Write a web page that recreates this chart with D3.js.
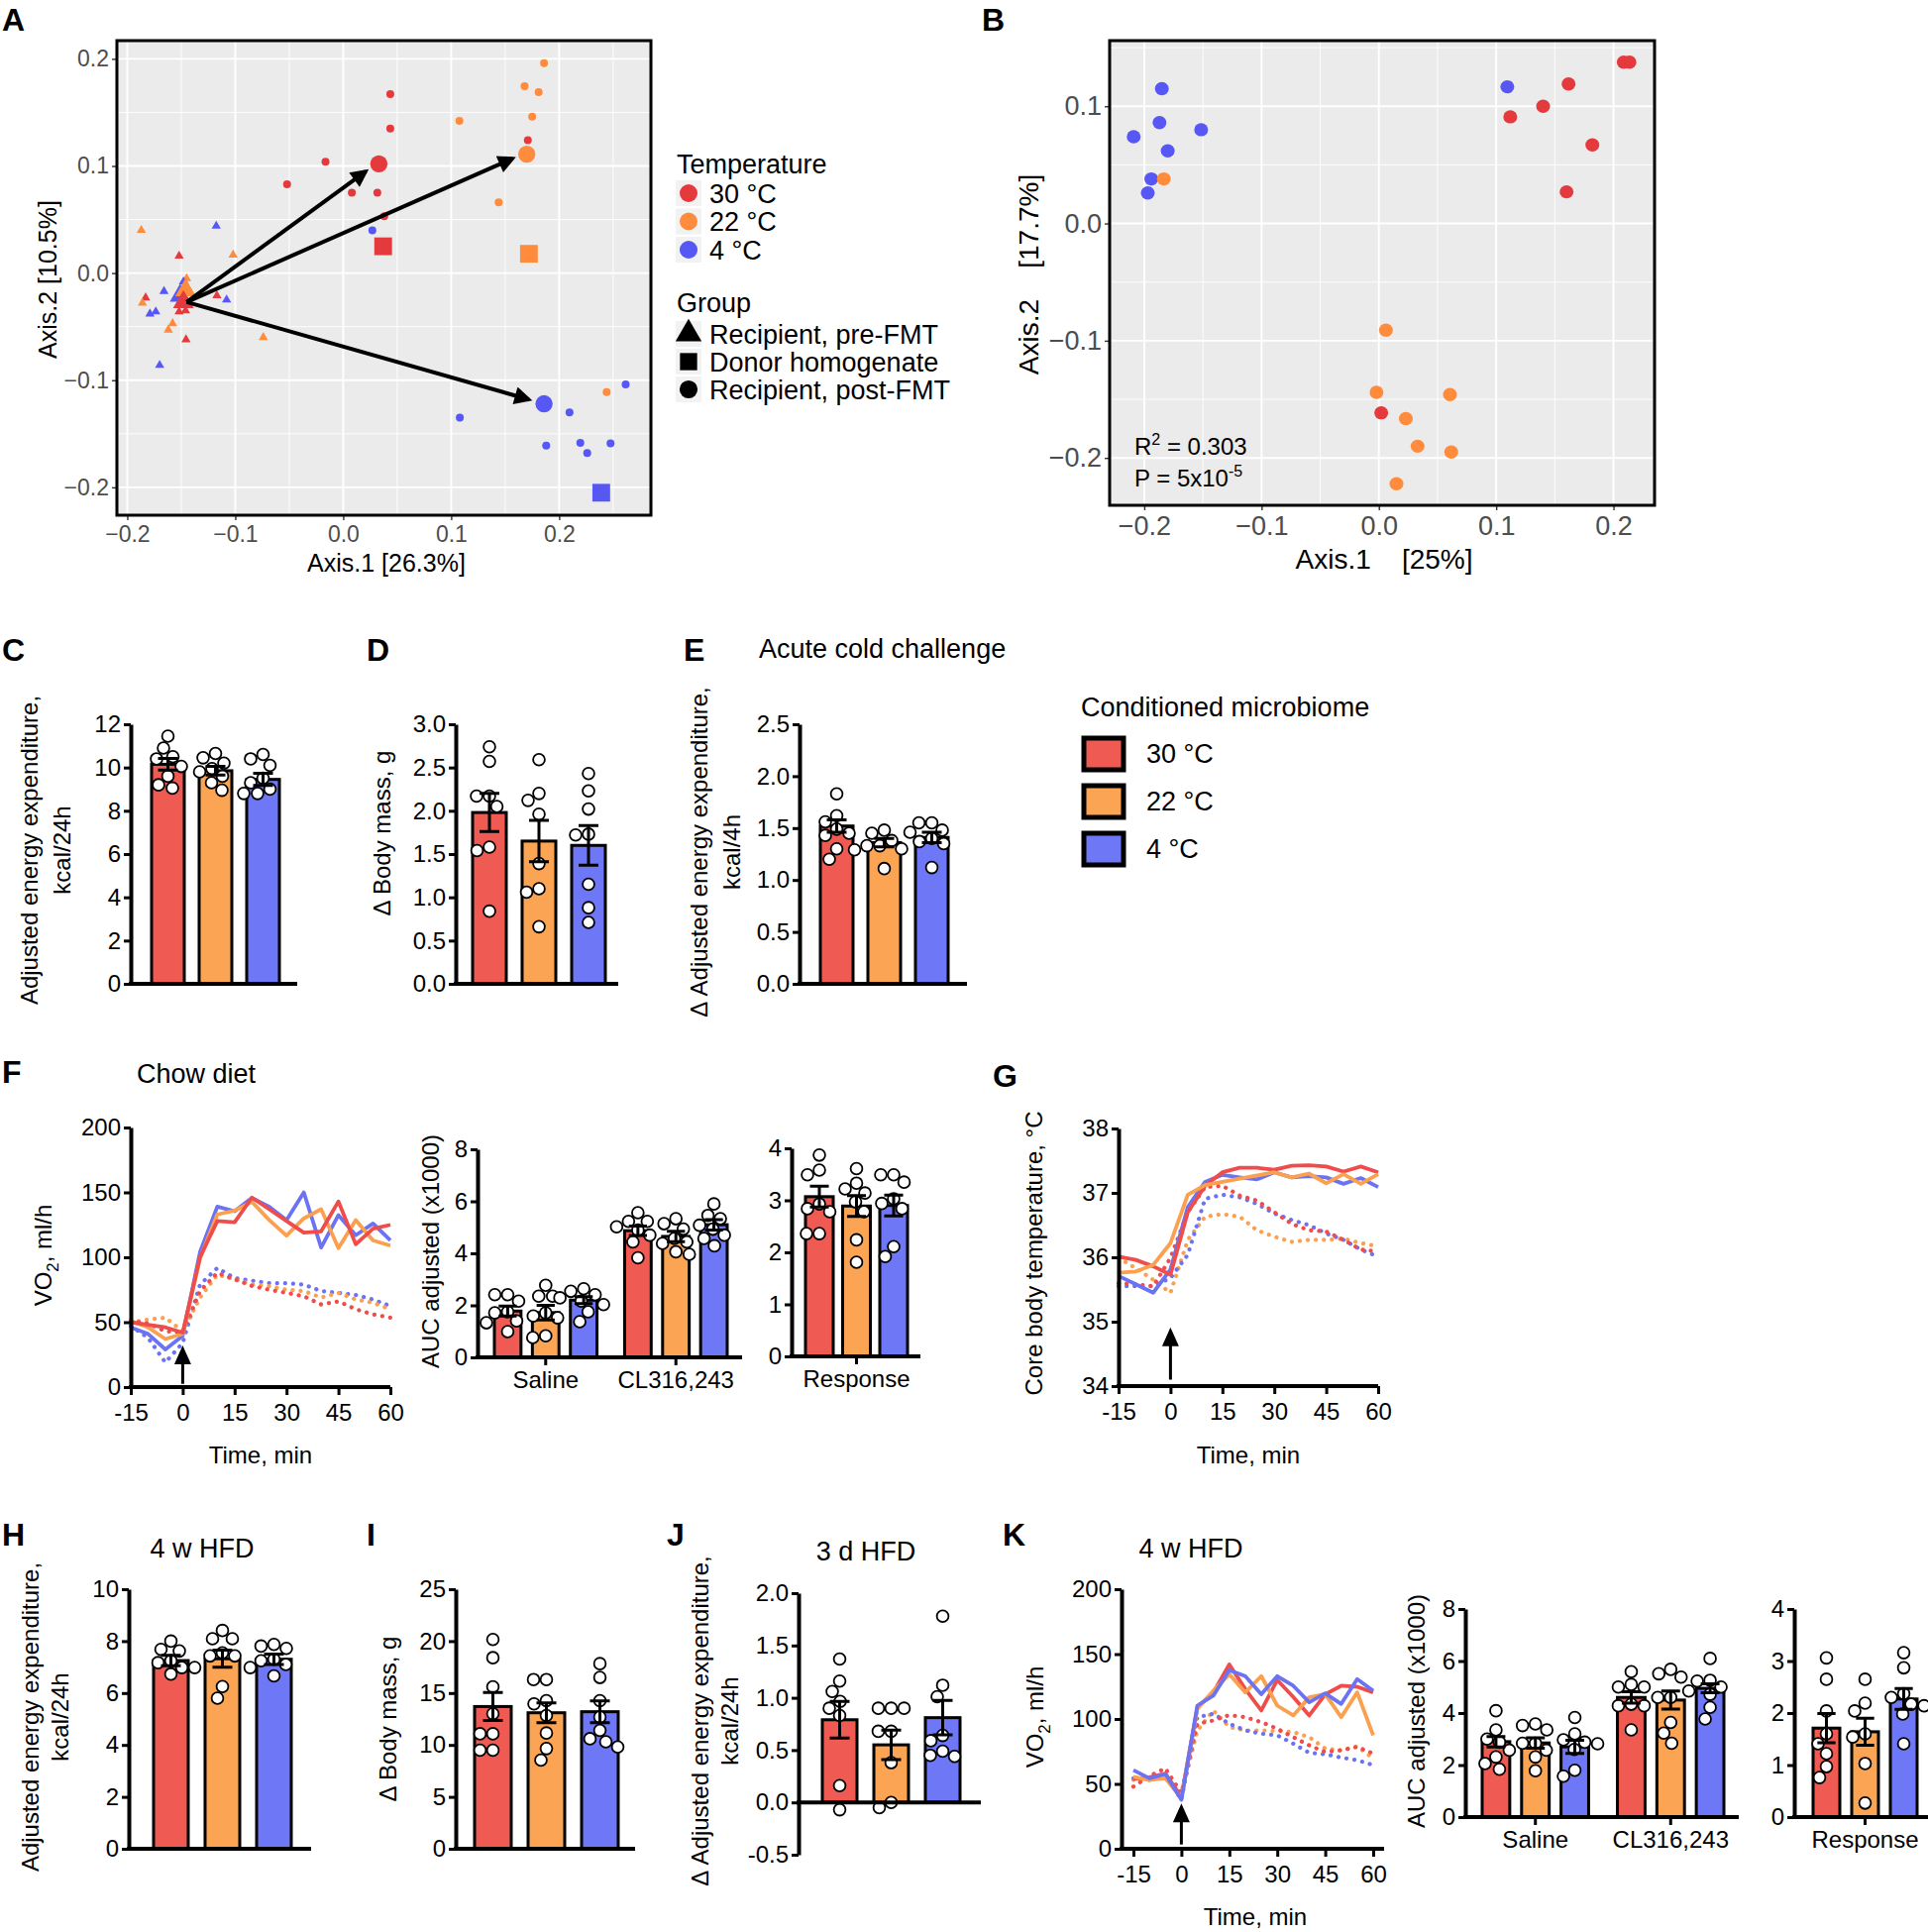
<!DOCTYPE html>
<html><head><meta charset="utf-8">
<script src="https://cdn.jsdelivr.net/npm/d3@7"></script>
<style>body{margin:0;background:#fff}</style>
</head><body><svg id="fig" width="1946" height="1950" xmlns="http://www.w3.org/2000/svg"></svg>
<script>
// ---------------- DATA ----------------
const groups = ["30 °C", "22 °C", "4 °C"];
const timeMin = [-15,-10,-5,0,5,10,15,20,25,30,35,40,45,50,55,60];
const timeTicks = [-15,0,15,30,45,60];

// Panel A (PCoA): [Axis.1, Axis.2]
const aPre30 = [[-0.152,0.016],[-0.183,-0.023],[-0.117,-0.021],[-0.1456,-0.062],[-0.152,-0.036],[-0.146,-0.035]];
const aPre22 = [[-0.187,0.040],[-0.102,0.017],[-0.145,-0.005],[-0.186,-0.028],[-0.158,-0.047],[-0.162,-0.053],[-0.074,-0.060]];
const aPre4  = [[-0.1176,0.044],[-0.148,-0.008],[-0.166,-0.017],[-0.1736,-0.036],[-0.179,-0.038],[-0.108,-0.025],[-0.170,-0.086]];
const aPost30 = [[0.0436,0.167],[0.0436,0.135],[-0.0164,0.104],[-0.052,0.083],[0.008,0.075],[0.0316,0.075],[0.038,0.053],[0.171,0.124]];
const aPost22 = [[0.186,0.196],[0.168,0.1745],[0.181,0.169],[0.175,0.146],[0.1076,0.142],[0.144,0.066],[0.244,-0.111]];
const aPost4  = [[0.027,0.040],[0.108,-0.135],[0.2096,-0.130],[0.188,-0.161],[0.2196,-0.1585],[0.226,-0.168],[0.2476,-0.159],[0.2616,-0.104]];
const aPreCentroid  = [[-0.148,-0.027],[-0.146,-0.016],[-0.151,-0.021]];
const aPostCentroid = [[0.033,0.102],[0.170,0.111],[0.186,-0.122]];
const aDonor = [[0.037,0.025],[0.172,0.018],[0.239,-0.205]];
const aArrowStart = [-0.145,-0.027];
const aArrowEnd = [[0.021,0.095],[0.157,0.107],[0.172,-0.118]];

// Panel B (PCoA)
const b30 = [[0.2087,0.1376],[0.2136,0.1376],[0.1617,0.119],[0.140,0.100],[0.112,0.091],[0.182,0.067],[0.160,0.027],[0.002,-0.1615]];
const b22 = [[-0.1833,0.038],[0.006,-0.091],[-0.002,-0.144],[0.0606,-0.146],[0.023,-0.1665],[0.033,-0.190],[0.0617,-0.195],[0.015,-0.222]];
const b4  = [[-0.185,0.115],[-0.187,0.086],[-0.209,0.074],[-0.1515,0.080],[-0.180,0.062],[-0.194,0.038],[-0.197,0.026],[0.1095,0.1166]];

// Panel C
const cMean = [10.15, 9.85, 9.45];
const cSem = [0.27, 0.2, 0.28];
const cDots = [[11.45,10.9,10.5,10.4,10.05,9.6,9.2,9.05],[10.65,10.45,10.2,9.95,9.8,9.6,9.3,8.95],[10.6,10.4,10.1,9.5,9.3,9.0,8.8,8.8]];
// Panel D
const dMean = [1.98, 1.65, 1.60];
const dSem = [0.22, 0.24, 0.23];
const dDots = [[2.74,2.57,2.17,2.17,2.05,1.58,1.54,0.84],[2.59,2.2,2.12,1.96,1.39,1.1,1.06,0.66],[2.43,2.23,2.02,1.73,1.72,1.15,0.88,0.71]];
// Panel E
const eMean = [1.52, 1.36, 1.41];
const eSem = [0.06, 0.04, 0.05];
const eDots = [[1.83,1.62,1.56,1.49,1.45,1.43,1.30,1.20],[1.48,1.45,1.38,1.33,1.33,1.30,1.29,1.11],[1.55,1.55,1.48,1.46,1.40,1.37,1.35,1.12]];

// Panel F
const fRedSolid    = [50,48,46,42,100,128,127,146,137,128,119,120,143,110,122,125];
const fOrangeSolid = [51,46,37,41,99,133,136,142.7,128.7,116.7,130,137,107,128.7,113,109];
const fBlueSolid   = [46,41,29,39.5,104,139,135.5,145.7,139,128.7,150,107.5,132.5,117,126,113];
const fRedDot      = [51,49,43,42,74,88,83,78,75,72.6,70,63.7,66,60,56,53.5];
const fOrangeDot   = [50,52,53.5,43,69,86.6,83,79,77.7,75,74,69,72.6,67.5,65,60];
const fBlueDot     = [47,38,19,34,79,91.7,84,82,80,80,79,74,72.6,71,67.5,62.4];
const fSalMean = [1.78, 1.72, 2.2];
const fSalSem = [0.19, 0.28, 0.13];
const fSalDots = [[2.41,2.41,2.16,1.75,1.71,1.4,1.33,0.99],[2.77,2.35,2.35,1.71,1.59,1.52,0.83,0.76],[2.64,2.54,2.41,2.29,2.16,2.03,1.75,1.37]];
const fClMean = [4.87, 4.65, 5.1];
const fClSem = [0.18, 0.2, 0.2];
const fClDots = [[5.56,5.23,5.23,5.02,4.89,4.70,4.44,3.83],[5.33,5.14,4.93,4.57,4.44,4.38,4.06,3.96],[5.9,5.46,5.33,5.08,4.93,4.70,4.57,4.29]];
const fRespMean = [3.07, 2.89, 2.9];
const fRespSem = [0.2, 0.2, 0.2];
const fRespDots = [[3.87,3.58,3.49,2.93,2.84,2.78,2.36,2.36],[3.61,3.33,3.22,3.14,2.97,2.78,2.24,1.81],[3.49,3.49,3.35,3.03,2.94,2.84,2.11,1.92]];

// Panel G
const gRedSolid    = [36.01,35.96,35.86,35.73,36.70,37.11,37.32,37.39,37.39,37.36,37.42,37.43,37.41,37.33,37.41,37.32];
const gOrangeSolid = [35.76,35.78,35.88,36.22,36.97,37.12,37.17,37.22,37.27,37.32,37.24,37.30,37.15,37.29,37.14,37.29];
const gBlueSolid   = [35.71,35.58,35.45,35.81,36.78,37.17,37.28,37.24,37.21,37.32,37.24,37.26,37.24,37.14,37.23,37.09];
const gRedDot      = [35.6,35.58,35.55,35.99,36.70,37.09,37.11,36.96,36.88,36.70,36.52,36.42,36.40,36.27,36.12,36.09];
const gOrangeDot   = [35.99,35.83,35.65,35.45,36.27,36.63,36.67,36.63,36.42,36.32,36.24,36.27,36.27,36.29,36.22,36.17];
const gBlueDot     = [35.55,35.55,35.55,35.68,36.04,36.91,36.97,36.93,36.83,36.68,36.58,36.50,36.37,36.27,36.12,36.01];

// Panel H
const hMean = [7.25, 7.32, 7.3];
const hSem = [0.2, 0.33, 0.2];
const hDots = [[8.0,7.68,7.62,7.24,7.17,6.98,6.98,6.73],[8.41,8.09,8.09,7.55,7.43,7.43,6.25,5.8],[7.87,7.81,7.72,7.3,7.24,7.1,6.98,6.66]];
// Panel I
const iMean = [13.7, 13.1, 13.2];
const iSem = [1.35, 0.95, 1.05];
const iDots = [[20.16,18.4,15.6,13.0,11.08,11.08,9.5,9.5],[16.3,16.3,14.27,13.95,12.83,11.15,9.65,8.54],[17.83,16.5,14.27,12.68,11.4,10.6,10.3,9.8]];
// Panel J
const jMean = [0.79, 0.55, 0.81];
const jSem = [0.175, 0.14, 0.165];
const jDots = [[1.37,1.16,1.06,0.965,0.90,0.83,0.16,-0.07],[0.90,0.90,0.90,0.68,0.68,0.38,0.0,-0.05],[1.78,1.12,1.01,0.64,0.59,0.49,0.45,0.44]];

// Panel K
const kRedSolid    = [53.8,55,58,40,109,120.5,142,123,106.5,130,117,102.7,119,125.6,124.8,120.5];
const kOrangeSolid = [55.5,53,54.3,39,107.8,121.8,134.5,120.5,133,110.3,102.7,116.7,119.2,101.4,120.5,87.4];
const kBlueSolid   = [60.6,54.3,57.6,37.7,110.3,118,137.6,133,119,133,125.6,112.9,119.7,111.6,130.7,121.8];
const kRedDot      = [47.9,56,62,42.8,96.3,98.9,103,101.4,97.6,92.5,86,79.7,74.6,75.9,78.5,73.4];
const kOrangeDot   = [53,53,56.8,41.5,91.2,106.5,93.8,91.2,91.2,90.7,90,86,77.2,75.9,79,69.6];
const kBlueDot     = [54.3,54.3,56.8,37.7,101.4,104,96.3,91.2,88.7,87.4,81,73.9,72.9,70.3,68.3,64.5];
const kSalMean = [2.9, 2.85, 2.7];
const kSalSem = [0.2, 0.2, 0.25];
const kSalDots = [[4.09,3.35,3.0,2.88,2.57,2.31,2.06,1.84],[3.58,3.52,3.35,2.84,2.84,2.57,2.31,1.78],[3.83,3.2,2.97,2.88,2.82,2.6,1.8,1.57]];
const kClMean = [4.6, 4.5, 4.95];
const kClSem = [0.22, 0.35, 0.17];
const kClDots = [[5.59,5.1,5.0,5.0,4.34,4.28,4.28,3.35],[5.68,5.51,5.38,4.6,4.6,3.64,3.23,2.84],[6.1,5.26,5.23,5.0,4.85,4.72,4.22,3.77]];
const kRespMean = [1.71, 1.64, 2.27];
const kRespSem = [0.28, 0.26, 0.2];
const kRespDots = [[3.06,2.65,2.04,1.6,1.41,1.22,0.97,0.76],[2.65,2.19,2.04,1.6,1.54,1.03,0.27],[3.16,2.87,2.37,2.3,2.17,2.14,1.98,1.41]];

// ---------------- STYLE ----------------
const FONT = '"Liberation Sans", Arial, Helvetica, sans-serif';
const scatterColors = ["#E53A3D", "#FF8B3D", "#5757F4"];
const barColors = ["#EF5A52", "#FBA453", "#6E77F5"];
const lineColors = ["#EE4D4B", "#FBA04F", "#6C73F3"];

const svg = d3.select("#fig");
svg.append("rect").attr("width", 1946).attr("height", 1950).attr("fill", "#fff");

function text(x, y, s, size, opts = {}) {
  const t = svg.append("text").attr("x", x).attr("y", y).text(s)
    .attr("font-family", FONT).attr("font-size", size)
    .attr("fill", opts.fill || "#000")
    .attr("text-anchor", opts.anchor || "start");
  if (opts.bold) t.attr("font-weight", "bold");
  return t;
}
function vtext(x, y, s, size) {
  return svg.append("text").attr("transform", `translate(${x},${y}) rotate(-90)`)
    .attr("text-anchor", "middle").attr("font-family", FONT).attr("font-size", size)
    .attr("fill", "#000").text(s);
}
function vtextSub(x, y, a, sub, b, size) {
  const t = svg.append("text").attr("transform", `translate(${x},${y}) rotate(-90)`)
    .attr("text-anchor", "middle").attr("font-family", FONT).attr("font-size", size).attr("fill", "#000");
  t.append("tspan").text(a);
  t.append("tspan").text(sub).attr("font-size", size * 0.7).attr("dy", size * 0.3);
  t.append("tspan").text(b).attr("dy", -size * 0.3);
  return t;
}
const hy = f => (d => f(d).replace("\u2212", "-"));

// ---------------- PANEL LETTERS & TITLES ----------------
[["A",2,31],["B",991,31],["C",2,667],["D",370,667],["E",690,667],["F",2,1093],["G",1002,1097],["H",2,1560],["I",370,1560],["J",673,1560],["K",1012,1560]]
  .forEach(([l, x, y]) => text(x, y, l, 32, {bold: true}));
text(766, 664, "Acute cold challenge", 27);
text(138, 1093, "Chow diet", 27);
text(204, 1572, "4 w HFD", 27, {anchor: "middle"});
text(874, 1575, "3 d HFD", 27, {anchor: "middle"});
text(1202, 1572, "4 w HFD", 27, {anchor: "middle"});

// ---------------- SCATTER PANELS (A, B) ----------------
function ggPanel(p) {
  const g = svg.append("g");
  const x = d3.scaleLinear().domain(p.xDom).range([p.left, p.right]);
  const y = d3.scaleLinear().domain(p.yDom).range([p.bottom, p.top]);
  g.append("rect").attr("x", p.left).attr("y", p.top).attr("width", p.right - p.left)
    .attr("height", p.bottom - p.top).attr("fill", "#EBEBEB");
  const minors = (ticks, dom) => {
    const st = ticks[1] - ticks[0], out = [];
    [ticks[0] - st / 2, ...ticks.map(t => t + st / 2)].forEach(m => { if (m > dom[0] && m < dom[1]) out.push(m); });
    return out;
  };
  minors(p.xTicks, p.xDom).forEach(m => g.append("line").attr("x1", x(m)).attr("x2", x(m))
    .attr("y1", p.top).attr("y2", p.bottom).attr("stroke", "#fff").attr("stroke-width", 0.9));
  minors(p.yTicks, p.yDom).forEach(m => g.append("line").attr("y1", y(m)).attr("y2", y(m))
    .attr("x1", p.left).attr("x2", p.right).attr("stroke", "#fff").attr("stroke-width", 0.9));
  p.xTicks.forEach(m => g.append("line").attr("x1", x(m)).attr("x2", x(m))
    .attr("y1", p.top).attr("y2", p.bottom).attr("stroke", "#fff").attr("stroke-width", 1.9));
  p.yTicks.forEach(m => g.append("line").attr("y1", y(m)).attr("y2", y(m))
    .attr("x1", p.left).attr("x2", p.right).attr("stroke", "#fff").attr("stroke-width", 1.9));
  const fmt = d3.format(".1f");
  const xa = g.append("g").attr("transform", `translate(0,${p.bottom})`)
    .call(d3.axisBottom(x).tickValues(p.xTicks).tickFormat(fmt).tickSize(5).tickPadding(p.pad));
  const ya = g.append("g").attr("transform", `translate(${p.left},0)`)
    .call(d3.axisLeft(y).tickValues(p.yTicks).tickFormat(fmt).tickSize(5).tickPadding(p.pad - 3));
  [xa, ya].forEach(a => {
    a.select(".domain").remove();
    a.attr("font-family", FONT).attr("font-size", p.tickSize);
    a.selectAll(".tick line").attr("stroke", "#333").attr("stroke-width", 1.4);
    a.selectAll(".tick text").attr("fill", "#4D4D4D");
  });
  return {g, x, y, frame: () => g.append("rect").attr("x", p.left).attr("y", p.top)
    .attr("width", p.right - p.left).attr("height", p.bottom - p.top)
    .attr("fill", "none").attr("stroke", "#000").attr("stroke-width", 3)};
}

// Panel A
{
  const P = ggPanel({left: 118, right: 657, top: 41, bottom: 520, xDom: [-0.2096, 0.285], yDom: [-0.226, 0.217],
    xTicks: [-0.2, -0.1, 0, 0.1, 0.2], yTicks: [-0.2, -0.1, 0, 0.1, 0.2], tickSize: 23, pad: 6});
  const {g, x, y} = P;
  const tri = (s) => d3.symbol(d3.symbolTriangle, s)();
  const sq = (s) => d3.symbol(d3.symbolSquare, s)();
  [aPre30, aPre22, aPre4].forEach((arr, i) => arr.forEach(d =>
    g.append("path").attr("d", tri(38)).attr("transform", `translate(${x(d[0])},${y(d[1])})`).attr("fill", scatterColors[i])));
  [aPost30, aPost22, aPost4].forEach((arr, i) => arr.forEach(d =>
    g.append("circle").attr("cx", x(d[0])).attr("cy", y(d[1])).attr("r", 4).attr("fill", scatterColors[i])));
  aDonor.forEach((d, i) => g.append("path").attr("d", sq(320)).attr("transform", `translate(${x(d[0])},${y(d[1])})`).attr("fill", scatterColors[i]));
  aPostCentroid.forEach((d, i) => g.append("circle").attr("cx", x(d[0])).attr("cy", y(d[1])).attr("r", 8.7).attr("fill", scatterColors[i]));
  [2, 1, 0].forEach(i => { const d = aPreCentroid[i];
    g.append("path").attr("d", tri(190)).attr("transform", `translate(${x(d[0])},${y(d[1])})`).attr("fill", scatterColors[i]); });
  const defs = svg.append("defs");
  defs.append("marker").attr("id", "ah").attr("viewBox", "0 0 10 10").attr("refX", 8).attr("refY", 5)
    .attr("markerWidth", 22).attr("markerHeight", 18).attr("markerUnits", "userSpaceOnUse").attr("orient", "auto")
    .append("path").attr("d", "M0,0L10,5L0,10z").attr("fill", "#000");
  aArrowEnd.forEach(e => g.append("line").attr("x1", x(aArrowStart[0])).attr("y1", y(aArrowStart[1]))
    .attr("x2", x(e[0])).attr("y2", y(e[1])).attr("stroke", "#000").attr("stroke-width", 4).attr("marker-end", "url(#ah)"));
  P.frame();
  text(390, 577, "Axis.1 [26.3%]", 25, {anchor: "middle"});
  vtext(57, 282, "Axis.2 [10.5%]", 25);
  // Legend
  text(683, 175, "Temperature", 27);
  groups.forEach((gname, i) => {
    const cy = 195 + i * 28.5;
    svg.append("rect").attr("x", 682).attr("y", cy - 13).attr("width", 26).attr("height", 26).attr("fill", "#F2F2F2");
    svg.append("circle").attr("cx", 695).attr("cy", cy).attr("r", 9).attr("fill", scatterColors[i]);
    text(716, cy + 9.5, gname, 27);
  });
  text(683, 315, "Group", 27);
  const shapes = [["Recipient, pre-FMT", tri(300)], ["Donor homogenate", sq(300)], ["Recipient, post-FMT", d3.symbol(d3.symbolCircle, 260)()]];
  shapes.forEach(([lab, path], i) => {
    const cy = 337 + i * 28;
    svg.append("rect").attr("x", 682).attr("y", cy - 13).attr("width", 26).attr("height", 26).attr("fill", "#F2F2F2");
    svg.append("path").attr("d", path).attr("transform", `translate(695,${cy})`).attr("fill", "#000");
    text(716, cy + 9.5, lab, 27);
  });
}

// Panel B
{
  const P = ggPanel({left: 1120, right: 1670, top: 41, bottom: 510, xDom: [-0.2295, 0.235], yDom: [-0.2404, 0.156],
    xTicks: [-0.2, -0.1, 0, 0.1, 0.2], yTicks: [-0.2, -0.1, 0, 0.1], tickSize: 27, pad: 6});
  const {g, x, y} = P;
  [b4, b30, b22].forEach((arr) => {
    const i = arr === b30 ? 0 : arr === b22 ? 1 : 2;
    arr.forEach(d => g.append("ellipse").attr("cx", x(d[0])).attr("cy", y(d[1])).attr("rx", 7).attr("ry", 6.7).attr("fill", scatterColors[i]));
  });
  P.frame();
  const r2 = text(1145, 459, "R", 24); r2.append("tspan").text("2").attr("font-size", 16).attr("dy", -10);
  r2.append("tspan").text(" = 0.303").attr("dy", 10);
  const pv = text(1145, 491, "P = 5x10", 24); pv.append("tspan").text("-5").attr("font-size", 16).attr("dy", -10);
  text(1397, 574, "Axis.1\u00A0\u00A0\u00A0\u00A0[25%]", 28, {anchor: "middle"});
  vtext(1048, 277, "Axis.2\u00A0\u00A0\u00A0\u00A0[17.7%]", 28);
}

// ---------------- BAR PANELS ----------------
function swarm(vals, cx, y, minDist) {
  const placed = [];
  vals.forEach(v => {
    const yy = y(v);
    for (let k = 0; k < 200; k++) {
      const offs = k === 0 ? [0] : [-k * 0.5, k * 0.5];
      let done = false;
      for (const o of offs) {
        const xx = cx + o;
        if (placed.every(p => (p.x - xx) ** 2 + (p.y - yy) ** 2 >= minDist * minDist)) {
          placed.push({x: xx, y: yy}); done = true; break;
        }
      }
      if (done) break;
    }
  });
  return placed;
}

function styleBlackAxis(a, size) {
  a.attr("font-family", FONT).attr("font-size", size);
  a.select(".domain").attr("stroke-width", 4);
  a.selectAll(".tick line").attr("stroke-width", 3);
  a.selectAll(".tick text").attr("fill", "#000");
}

function barPanel(p) {
  const g = svg.append("g");
  const y = d3.scaleLinear().domain(p.dom).range([p.yBot, p.yTop]);
  const outer = d3.scaleBand().domain(p.clusters.map(c => c.name)).range(p.range).paddingInner(p.outerPad || 0).paddingOuter(0);
  const inner = d3.scaleBand().domain(groups).range([0, outer.bandwidth()])
    .paddingInner(p.pad).paddingOuter(p.innerOuter !== undefined ? p.innerOuter : p.pad / 2);
  const base = y(Math.max(p.dom[0], 0));
  p.clusters.forEach(c => {
    groups.forEach((gname, i) => {
      const x0 = outer(c.name) + inner(gname), bw = inner.bandwidth(), cx = x0 + bw / 2;
      g.append("rect").attr("x", x0).attr("y", y(c.means[i])).attr("width", bw)
        .attr("height", base - y(c.means[i])).attr("fill", barColors[i]).attr("stroke", "#000").attr("stroke-width", 3);
      swarm(c.dots[i], cx, y, 12.8).forEach(d => g.append("circle").attr("cx", d.x).attr("cy", d.y).attr("r", 5.9)
        .attr("fill", "#fff").attr("stroke", "#000").attr("stroke-width", 1.8));
      const hi = y(c.means[i] + c.sems[i]), lo = y(c.means[i] - c.sems[i]), ch = Math.min(10, bw * 0.34);
      g.append("path").attr("d", `M${cx},${hi}V${lo}M${cx - ch},${hi}H${cx + ch}M${cx - ch},${lo}H${cx + ch}`)
        .attr("stroke", "#000").attr("stroke-width", 3).attr("fill", "none");
    });
  });
  const ya = g.append("g").attr("transform", `translate(${p.axisX},0)`)
    .call(d3.axisLeft(y).tickValues(p.ticks).tickFormat(p.fmt).tickSize(7).tickSizeOuter(0).tickPadding(3));
  styleBlackAxis(ya, 24);
  g.append("line").attr("x1", p.axisX - 2).attr("x2", p.endX).attr("y1", base).attr("y2", base)
    .attr("stroke", "#000").attr("stroke-width", 4);
  if (p.labels) {
    const xa = g.append("g").attr("transform", `translate(0,${base})`)
      .call(d3.axisBottom(outer).tickSize(8).tickPadding(6));
    xa.select(".domain").remove();
    styleBlackAxis(xa, 24);
  }
}
const f1 = hy(d3.format(".1f")), f0 = d3.format("d");

barPanel({axisX: 132, endX: 300, yTop: 731, yBot: 993, dom: [0, 12], ticks: [0,2,4,6,8,10,12], fmt: f0,
  range: [145.5, 289.5], pad: 0.3125, clusters: [{name: "", means: cMean, sems: cSem, dots: cDots}]});
barPanel({axisX: 460, endX: 624, yTop: 731, yBot: 993, dom: [0, 3], ticks: [0,0.5,1,1.5,2,2.5,3], fmt: f1,
  range: [469, 619], pad: 0.32, clusters: [{name: "", means: dMean, sems: dSem, dots: dDots}]});
barPanel({axisX: 807, endX: 976, yTop: 731, yBot: 993, dom: [0, 2.5], ticks: [0,0.5,1,1.5,2,2.5], fmt: f1,
  range: [820.5, 964.5], pad: 0.3125, clusters: [{name: "", means: eMean, sems: eSem, dots: eDots}]});
barPanel({axisX: 482, endX: 749, yTop: 1160, yBot: 1370, dom: [0, 8], ticks: [0,2,4,6,8], fmt: f0,
  range: [499, 734], outerPad: 0.212, pad: 0.3, innerOuter: 0, labels: true,
  clusters: [{name: "Saline", means: fSalMean, sems: fSalSem, dots: fSalDots}, {name: "CL316,243", means: fClMean, sems: fClSem, dots: fClDots}]});
barPanel({axisX: 799, endX: 929, yTop: 1159, yBot: 1369, dom: [0, 4], ticks: [0,1,2,3,4], fmt: f0,
  range: [808.25, 920.75], pad: 0.253, labels: true, clusters: [{name: "Response", means: fRespMean, sems: fRespSem, dots: fRespDots}]});
barPanel({axisX: 130, endX: 314, yTop: 1604, yBot: 1866, dom: [0, 10], ticks: [0,2,4,6,8,10], fmt: f0,
  range: [146.5, 302.5], pad: 0.327, clusters: [{name: "", means: hMean, sems: hSem, dots: hDots}]});
barPanel({axisX: 460, endX: 641, yTop: 1604, yBot: 1866, dom: [0, 25], ticks: [0,5,10,15,20,25], fmt: f0,
  range: [470.5, 632.5], pad: 0.315, clusters: [{name: "", means: iMean, sems: iSem, dots: iDots}]});
barPanel({axisX: 806, endX: 990, yTop: 1608, yBot: 1872, dom: [-0.5, 2], ticks: [-0.5,0,0.5,1,1.5,2], fmt: f1,
  range: [821.5, 977.5], pad: 0.327, clusters: [{name: "", means: jMean, sems: jSem, dots: jDots}]});
barPanel({axisX: 1479, endX: 1755, yTop: 1624, yBot: 1834, dom: [0, 8], ticks: [0,2,4,6,8], fmt: f0,
  range: [1496, 1740], outerPad: 0.213, pad: 0.3, innerOuter: 0, labels: true,
  clusters: [{name: "Saline", means: kSalMean, sems: kSalSem, dots: kSalDots}, {name: "CL316,243", means: kClMean, sems: kClSem, dots: kClDots}]});
barPanel({axisX: 1811, endX: 1946, yTop: 1624, yBot: 1834, dom: [0, 4], ticks: [0,1,2,3,4], fmt: f0,
  range: [1824, 1941], pad: 0.308, labels: true, clusters: [{name: "Response", means: kRespMean, sems: kRespSem, dots: kRespDots}]});

// ---------------- LINE PANELS ----------------
function linePanel(p) {
  const g = svg.append("g");
  const x = d3.scaleLinear().domain([-15, 60]).range([p.x0, p.x1]);
  const y = d3.scaleLinear().domain(p.dom).range([p.yBot, p.yTop]);
  const line = d3.line().x((d, i) => x(timeMin[i])).y(d => y(d));
  p.dotted.forEach(([vals, ci]) => g.append("path").attr("d", line(vals)).attr("fill", "none")
    .attr("stroke", lineColors[ci]).attr("stroke-width", 4.2).attr("stroke-linecap", "round")
    .attr("stroke-dasharray", "0.1 8"));
  p.solid.forEach(([vals, ci]) => g.append("path").attr("d", line(vals)).attr("fill", "none")
    .attr("stroke", lineColors[ci]).attr("stroke-width", 3.8).attr("stroke-linejoin", "round"));
  const ya = g.append("g").attr("transform", `translate(${p.axisX},0)`)
    .call(d3.axisLeft(y).tickValues(p.ticks).tickFormat(d3.format("d")).tickSize(7).tickSizeOuter(0).tickPadding(3));
  styleBlackAxis(ya, 24);
  const xa = g.append("g").attr("transform", `translate(0,${p.yBot})`)
    .call(d3.axisBottom(x).tickValues(timeTicks).tickFormat(hy(d3.format("d"))).tickSize(8).tickPadding(9));
  xa.select(".domain").remove();
  styleBlackAxis(xa, 24);
  g.append("line").attr("x1", p.axisX - 2).attr("x2", p.xLineEnd).attr("y1", p.yBot).attr("y2", p.yBot)
    .attr("stroke", "#000").attr("stroke-width", 4);
  // stimulus arrow at t = 0
  const ax = x(0), tip = y(p.arrow[1]), bot = y(p.arrow[0]);
  g.append("line").attr("x1", ax).attr("x2", ax).attr("y1", bot).attr("y2", tip + 14)
    .attr("stroke", "#000").attr("stroke-width", 3);
  g.append("path").attr("d", `M${ax},${tip}L${ax - 8.5},${tip + 19}L${ax + 8.5},${tip + 19}Z`).attr("fill", "#000");
}

linePanel({axisX: 132, x0: 132, x1: 394, xLineEnd: 394, yTop: 1138, yBot: 1400, dom: [0, 200], ticks: [0,50,100,150,200],
  dotted: [[fBlueDot, 2], [fOrangeDot, 1], [fRedDot, 0]],
  solid: [[fBlueSolid, 2], [fOrangeSolid, 1], [fRedSolid, 0]], arrow: [2.5, 32]});
linePanel({axisX: 1129, x0: 1129, x1: 1391, xLineEnd: 1391, yTop: 1139, yBot: 1399, dom: [34, 38], ticks: [34,35,36,37,38],
  dotted: [[gOrangeDot, 1], [gBlueDot, 2], [gRedDot, 0]],
  solid: [[gBlueSolid, 2], [gRedSolid, 0], [gOrangeSolid, 1]], arrow: [34.1, 34.91]});
linePanel({axisX: 1132, x0: 1144, x1: 1386, xLineEnd: 1397, yTop: 1604, yBot: 1866, dom: [0, 200], ticks: [0,50,100,150,200],
  dotted: [[kOrangeDot, 1], [kBlueDot, 2], [kRedDot, 0]],
  solid: [[kRedSolid, 0], [kOrangeSolid, 1], [kBlueSolid, 2]], arrow: [3.3, 35]});

// ---------------- AXIS TITLES ----------------
vtext(38, 858, "Adjusted energy expenditure,", 24);
vtext(71, 858, "kcal/24h", 24);
vtext(394, 841, "\u0394 Body mass, g", 24);
vtext(714, 860, "\u0394 Adjusted energy expenditure,", 24);
vtext(747, 860, "kcal/4h", 24);
vtextSub(52, 1267, "VO", "2", ", ml/h", 24);
vtext(443, 1263, "AUC adjusted (x1000)", 24);
vtext(1052, 1265, "Core body temperature, \u00B0C", 24);
vtext(39, 1733, "Adjusted energy expenditure,", 24);
vtext(69, 1733, "kcal/24h", 24);
vtext(400, 1735, "\u0394 Body mass, g", 24);
vtext(715, 1737, "\u0394 Adjusted energy expenditure,", 24);
vtext(745, 1737, "kcal/24h", 24);
vtextSub(1053, 1733, "VO", "2", ", ml/h", 24);
vtext(1438, 1727, "AUC adjusted (x1000)", 24);
text(263, 1477, "Time, min", 24, {anchor: "middle"});
text(1260, 1477, "Time, min", 24, {anchor: "middle"});
text(1267, 1943, "Time, min", 24, {anchor: "middle"});

// ---------------- LEGEND (conditioned microbiome) ----------------
text(1091, 723, "Conditioned microbiome", 27);
groups.forEach((gname, i) => {
  const cy = 761 + i * 48;
  svg.append("rect").attr("x", 1094).attr("y", cy - 16).attr("width", 40).attr("height", 32)
    .attr("fill", barColors[i]).attr("stroke", "#000").attr("stroke-width", 5);
  text(1157, cy + 9, gname, 27);
});
</script></body></html>
